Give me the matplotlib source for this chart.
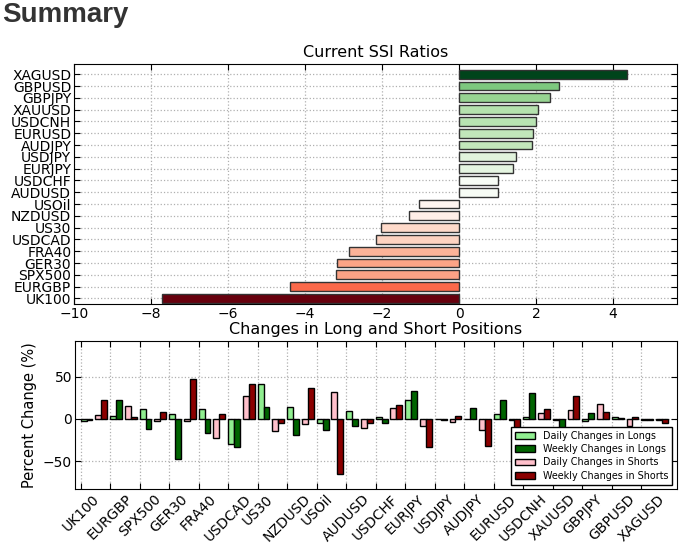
import matplotlib
matplotlib.use("Agg")
import matplotlib.pyplot as plt
import matplotlib.colors as mcolors
import numpy as np

# ---------------- data ----------------
symbols = ["UK100", "EURGBP", "SPX500", "GER30", "FRA40", "USDCAD", "US30",
           "NZDUSD", "USOil", "AUDUSD", "USDCHF", "EURJPY", "USDJPY", "AUDJPY",
           "EURUSD", "USDCNH", "XAUUSD", "GBPJPY", "GBPUSD", "XAGUSD"]
ssi = [-7.71, -4.38, -3.21, -3.17, -2.87, -2.17, -2.02, -1.30, -1.03, 1.01,
       1.00, 1.41, 1.48, 1.89, 1.91, 2.00, 2.04, 2.35, 2.59, 4.35]

daily_longs = [-3, 3.6, 12, 5.6, 12, -29.2, 40.8, 13.6, -4.8, 8.8,
               2.8, 22.4, -0.5, 0.5, 6.4, 2, -1, -2.8, 2.8, -1]
weekly_longs = [-1, 22.8, -11.6, -47.6, -16.4, -33.2, 14.4, -18.4, -13.2, -8,
                -5.2, 32.4, -1, 12.4, 22.8, 30.8, -10.8, 6.8, 1, -1]
daily_shorts = [5.2, 15.6, -2.4, -2, -22.4, 27.6, -14, -6.4, 32, -11.2,
                12.4, -8.4, -4, -13.2, -1, 6.8, 10, 18, -8.4, -1]
weekly_shorts = [22.8, 2, 8, 47.2, 6, 40.8, -4.4, 36.4, -64.4, -5.2,
                 16.4, -33.2, 3.6, -31.6, -14, 12, 26.8, 7.6, 2.8, -4.4]

series_labels = ["Daily Changes in Longs", "Weekly Changes in Longs",
                 "Daily Changes in Shorts", "Weekly Changes in Shorts"]
series_colors = ["lightgreen", "darkgreen", "pink", "darkred"]

# ---------------- figure ----------------
plt.rcParams["font.family"] = ["DejaVu Sans"]
fig = plt.figure(figsize=(6.8, 5.49), dpi=100)

fig.text(0.003, 0.9605, "Summary", fontsize=20, fontweight="bold",
         family="Liberation Sans", color="#333333", va="baseline", ha="left")

grid_kw = dict(color="#b0b0b0", linestyle=":", linewidth=0.9)

# ---------------- top: SSI ratios ----------------
ax1 = fig.add_axes([0.109, 0.4457, 0.886, 0.4373])
vals = np.array(ssi)
pos = vals[vals > 0]
neg = np.abs(vals[vals < 0])
gnorm = mcolors.Normalize(pos.min(), pos.max())
rnorm = mcolors.Normalize(neg.min(), neg.max())
colors = [plt.cm.Greens(gnorm(v)) if v > 0 else plt.cm.Reds(rnorm(abs(v))) for v in vals]
y = np.arange(len(symbols))
ax1.barh(y, vals, height=0.74, color=colors, edgecolor="#333333", linewidth=1, zorder=3)
ax1.set_yticks(y)
ax1.set_yticklabels(symbols, fontsize=10)
ax1.set_ylim(-0.5, 19.85)
ax1.set_xlim(-10, 5.65)
ax1.set_xticks(np.arange(-10, 5, 2))
ax1.set_xticklabels([f"{t:d}".replace("-", "\u2212") for t in range(-10, 5, 2)], fontsize=10)
ax1.grid(True, **grid_kw)
ax1.set_axisbelow(True)
ax1.tick_params(direction="in", top=True, right=True, length=4, pad=2)
ax1.set_title("Current SSI Ratios", fontsize=11.5, pad=5)
for s in ax1.spines.values():
    s.set_color("black")

# ---------------- bottom: changes ----------------
ax2 = fig.add_axes([0.1099, 0.1087, 0.8853, 0.2703])
x = np.arange(len(symbols))
offsets = [0.0, 0.2, 0.5, 0.7]
data = [daily_longs, weekly_longs, daily_shorts, weekly_shorts]
for d, off, c, lab in zip(data, offsets, series_colors, series_labels):
    ax2.bar(x + off, d, width=0.2, align="edge", color=c, edgecolor="black",
            linewidth=1, label=lab, zorder=3)
ax2.set_xticks(x)
ax2.set_xticklabels(symbols, rotation=45, ha="center", fontsize=10)
ax2.set_xlim(-0.2, 20.2)
ax2.set_ylim(-83, 92)
ax2.set_yticks([-50, 0, 50])
ax2.set_yticklabels(["\u221250", "0", "50"], fontsize=10)
ax2.set_ylabel("Percent Change (%)", fontsize=10.5)
ax2.grid(True, **grid_kw)
ax2.set_axisbelow(True)
ax2.tick_params(direction="in", top=True, right=True, length=4, pad=2)
ax2.set_title("Changes in Long and Short Positions", fontsize=11.5, pad=5)
leg = ax2.legend(loc="lower right", fontsize=6.9, fancybox=False, framealpha=1,
                 edgecolor="black", borderaxespad=0.5, handleheight=0.7,
                 labelspacing=0.35, handlelength=2.1)
leg.get_frame().set_linewidth(1)
for s in ax2.spines.values():
    s.set_color("black")

fig.savefig("out.png", dpi=100)
